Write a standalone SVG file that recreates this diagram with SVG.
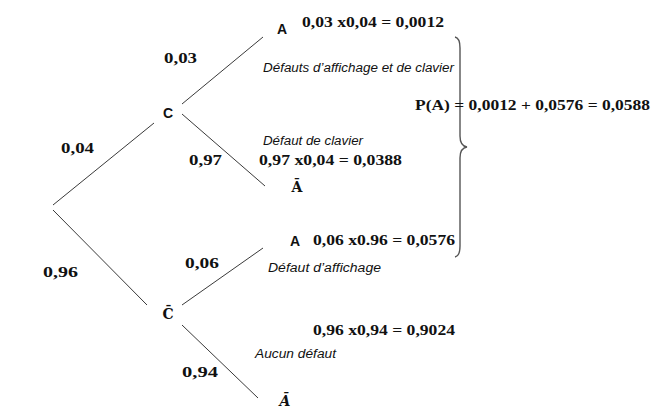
<svg xmlns="http://www.w3.org/2000/svg" width="652" height="408" viewBox="0 0 652 408">
<style>
.bg{fill:#fff}
.ln{stroke:#3a3a3a;stroke-width:1;fill:none}
.br{stroke:#555;stroke-width:1.4;fill:none}
.m{font-family:"Liberation Serif","DejaVu Serif",serif;font-weight:bold;font-size:15px;fill:#111}
.b{font-family:"DejaVu Serif","Liberation Serif",serif;font-weight:bold;font-size:14px;fill:#111}
.it{font-family:"Liberation Sans","DejaVu Sans",sans-serif;font-style:italic;font-size:12.5px;fill:#111}
.n{font-family:"Liberation Sans","DejaVu Sans",sans-serif;font-weight:bold;font-size:14px;fill:#111}
</style>
<rect class="bg" x="0" y="0" width="652" height="408"/>
<g id="connectors">
<line class="ln" x1="53" y1="205" x2="154" y2="123"/>
<line class="ln" x1="53" y1="210" x2="147" y2="305"/>
<line class="ln" x1="182" y1="104" x2="263" y2="37"/>
<line class="ln" x1="182" y1="114" x2="265" y2="186"/>
<line class="ln" x1="182" y1="305" x2="263" y2="248"/>
<line class="ln" x1="182" y1="325" x2="258" y2="398"/>
</g>
<g id="node-C"><text class="n" x="168" y="118" text-anchor="middle">C</text></g>
<g id="node-A1"><text class="n" x="282" y="34" text-anchor="middle">A</text></g>
<g id="node-Abar1"><text class="b" x="297" y="192" text-anchor="middle">Ā</text></g>
<g id="node-Cbar"><text class="b" x="168" y="319" text-anchor="middle">C̄</text></g>
<g id="node-A2"><text class="n" x="295" y="246" text-anchor="middle">A</text></g>
<g id="node-Abar2"><text class="b" x="285" y="406" text-anchor="middle" font-style="italic">Ā</text></g>
<g id="labels">
<text class="m" x="61" y="153" textLength="33" lengthAdjust="spacingAndGlyphs">0,04</text>
<text class="m" x="43" y="277" textLength="35" lengthAdjust="spacingAndGlyphs">0,96</text>
<text class="m" x="164" y="63" textLength="33" lengthAdjust="spacingAndGlyphs">0,03</text>
<text class="m" x="189" y="165" textLength="33" lengthAdjust="spacingAndGlyphs">0,97</text>
<text class="m" x="185" y="268" textLength="34" lengthAdjust="spacingAndGlyphs">0,06</text>
<text class="m" x="182" y="377" textLength="36" lengthAdjust="spacingAndGlyphs">0,94</text>
<text class="m" x="302" y="27" textLength="142" lengthAdjust="spacingAndGlyphs">0,03 x0,04 = 0,0012</text>
<text class="m" x="259" y="165" textLength="143" lengthAdjust="spacingAndGlyphs">0,97 x0,04 = 0,0388</text>
<text class="m" x="313" y="245" textLength="142" lengthAdjust="spacingAndGlyphs">0,06 x0.96 = 0,0576</text>
<text class="m" x="313" y="335" textLength="142" lengthAdjust="spacingAndGlyphs">0,96 x0,94 = 0,9024</text>
<text class="it" x="263" y="72" textLength="191" lengthAdjust="spacingAndGlyphs">Défauts d’affichage et de clavier</text>
<text class="it" x="263" y="145" textLength="100" lengthAdjust="spacingAndGlyphs">Défaut de clavier</text>
<text class="it" x="268" y="272" textLength="113" lengthAdjust="spacingAndGlyphs">Défaut d’affichage</text>
<text class="it" x="255" y="358" textLength="81" lengthAdjust="spacingAndGlyphs">Aucun défaut</text>
</g>
<g id="sum">
<path class="br" d="M455,37 Q460,38 460,48 L460,136 Q460,146 467,147 Q460,148 460,158 L460,246 Q460,256 455,257"/>
<text class="m" x="415" y="110" textLength="235" lengthAdjust="spacingAndGlyphs">P(A) = 0,0012 + 0,0576 = 0,0588</text>
</g>
</svg>
